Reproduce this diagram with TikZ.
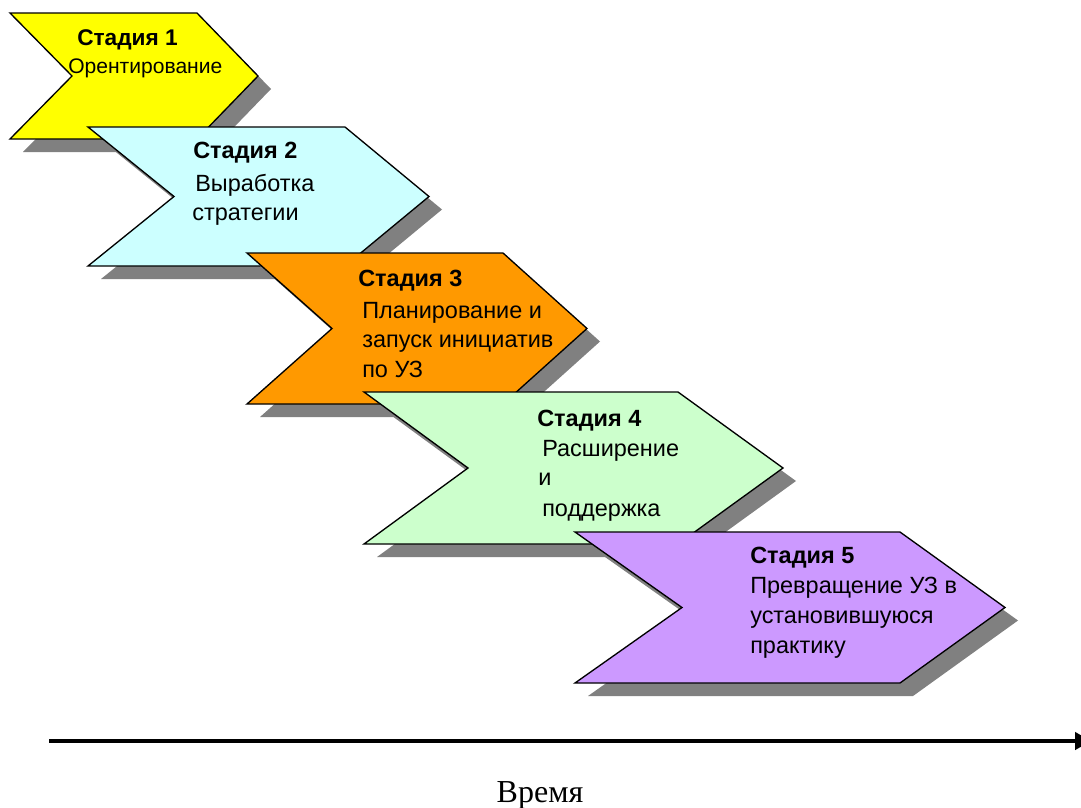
\documentclass[tikz,border=0pt]{standalone}
\usepackage{fontspec}
\setmainfont{Liberation Sans}
\newfontfamily\timefont{Liberation Serif}
\usetikzlibrary{arrows.meta}

\definecolor{shadowgray}{HTML}{808080}
\definecolor{stageyellow}{HTML}{FFFF00}
\definecolor{stagecyan}{HTML}{CCFFFF}
\definecolor{stageorange}{HTML}{FF9900}
\definecolor{stagegreen}{HTML}{CCFFCC}
\definecolor{stagepurple}{HTML}{CC99FF}

% #1 left x, #2 shoulder x, #3 notch x, #4 tip x, #5 top y, #6 bottom y, #7 fill
\newcommand\stagechevron[7]{%
  \fill[shadowgray, shift={(13,13)}]
    (#1,#5) -- (#2,#5) -- (#4,{(#5+#6)/2}) -- (#2,#6) -- (#1,#6) -- (#3,{(#5+#6)/2}) -- cycle;
  \draw[chev, fill=#7]
    (#1,#5) -- (#2,#5) -- (#4,{(#5+#6)/2}) -- (#2,#6) -- (#1,#6) -- (#3,{(#5+#6)/2}) -- cycle;
}

\begin{document}
\begin{tikzpicture}[x=0.75pt, y=-0.75pt,
  chev/.style={draw=black, line width=1pt, line join=miter},
  head/.style={anchor=base west, inner sep=0pt, font=\fontsize{17.6}{21}\selectfont\bfseries},
  body/.style={anchor=base west, inner sep=0pt, font=\fontsize{17.6}{21}\selectfont},
  axisline/.style={line width=2.6pt, -{Triangle[length=12pt, width=13pt]}}]
\useasboundingbox (0,0) rectangle (1081,807);

% stage shapes, each with its drop shadow
\stagechevron{10}{197}{72}{258}{13}{139}{stageyellow}
\stagechevron{88}{345}{174}{429}{127}{266}{stagecyan}
\stagechevron{247}{503}{332}{587}{253}{404}{stageorange}
\stagechevron{364}{678}{468}{783}{392}{544}{stagegreen}
\stagechevron{575}{900}{682}{1005}{532}{683}{stagepurple}

% stage 1 (set a little smaller to fit its narrower shape)
\node[head, font=\fontsize{17}{21}\selectfont\bfseries] (s1h) at (77,45) {Стадия 1};
\node[body, font=\fontsize{15.8}{19}\selectfont] (s1a) at (68,73) {Орентирование};
% stage 2
\node[head] (s2h) at (193,158) {Стадия 2};
\node[body] (s2a) at (195,191) {Выработка};
\node[body] (s2b) at (192,220) {стратегии};
% stage 3
\node[head] (s3h) at (358,286) {Стадия 3};
\node[body] (s3a) at (362,318) {Планирование и};
\node[body] (s3b) at (362,347) {запуск инициатив};
\node[body] (s3c) at (362,377) {по УЗ};
% stage 4
\node[head] (s4h) at (537,426) {Стадия 4};
\node[body] (s4a) at (542,456) {Расширение};
\node[body] (s4b) at (538,485) {и};
\node[body] (s4c) at (542,516) {поддержка};
% stage 5
\node[head] (s5h) at (750,563) {Стадия 5};
\node[body] (s5a) at (750,593) {Превращение УЗ в};
\node[body] (s5b) at (750,623) {установившуюся};
\node[body] (s5c) at (750,653) {практику};

% time axis
\coordinate (tstart) at (49,741);
\coordinate (tend) at (1091,741);
\draw[axisline] (tstart) -- (tend);
\node[anchor=base, inner sep=0pt, font=\timefont\fontsize{24}{28}\selectfont] (tlabel) at (540,802) {Время};
\end{tikzpicture}
\end{document}
